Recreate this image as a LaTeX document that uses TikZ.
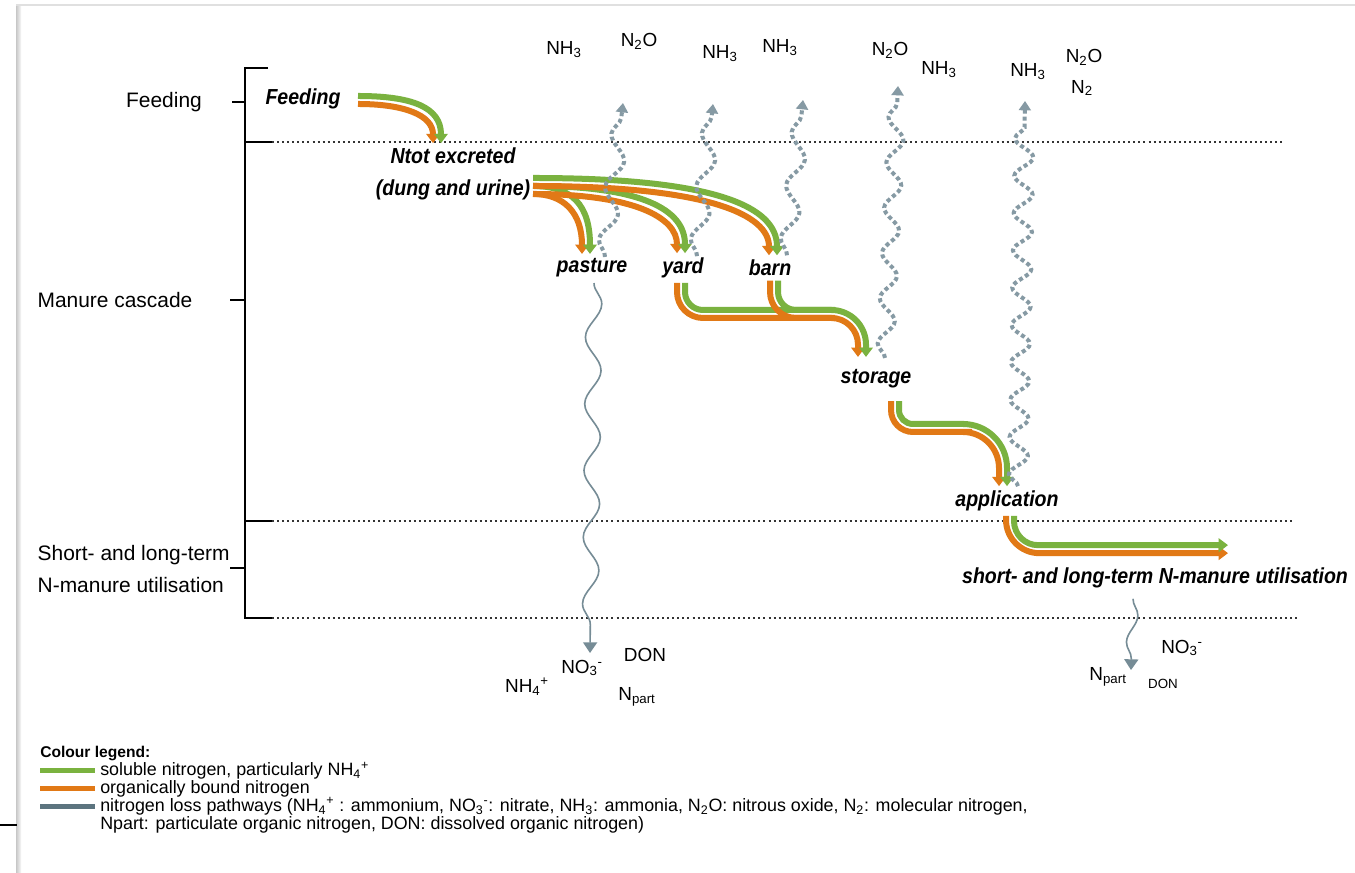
\documentclass[tikz,border=0pt]{standalone}
\usepackage{fontspec}
\setmainfont{Liberation Sans}
\newfontfamily\stagefont{Liberation Sans}[FakeStretch=0.9]
\usetikzlibrary{arrows.meta,decorations.pathmorphing}
\definecolor{solgreen}{RGB}{122,178,63}
\definecolor{orgorange}{RGB}{225,121,22}
\definecolor{lossgrey}{RGB}{134,154,164}
\definecolor{leachgrey}{RGB}{118,140,150}
\definecolor{keygrey}{RGB}{92,116,127}
\newcommand{\subsup}[2]{\textsubscript{#1}\textsuperscript{#2}}

\begin{document}
\begin{tikzpicture}[x=0.75pt,y=0.75pt,
	phase/.style={font=\fontsize{15.7}{24.7}\selectfont},
	stage/.style={font=\stagefont\fontsize{16.3}{24}\selectfont\bfseries\itshape, align=center},
	gas/.style={font=\fontsize{14.2}{16}\selectfont, inner sep=0pt},
	keytext/.style={font=\fontsize{13.4}{13.6}\selectfont, anchor=base west, inner sep=0pt},
	levelline/.style={draw=black!80, line width=1.1pt, dash pattern=on 1.5pt off 2.3pt},
	band/.style={line width=4.5pt, -{Triangle[width=10pt,length=7pt]}},
	soluble/.style={band, draw=solgreen},
	organic/.style={band, draw=orgorange},
	lossway/.style={draw=lossgrey, line width=3pt, dash pattern=on 3pt off 2.2pt,
		decorate, decoration={snake, segment length=40pt, amplitude=6pt, post length=8pt},
		-{Triangle[width=9pt,length=7pt]}},
	leach/.style={draw=leachgrey, line width=1.2pt,
		decorate, decoration={snake, segment length=50pt, amplitude=6pt, post length=8pt},
		-{Triangle[width=10.5pt,length=8pt]}}]

	\useasboundingbox (0,0) rectangle (1355,873);
	\fill[white] (0,0) rectangle (1355,873);
	\shade[left color=black!22, right color=black!3] (16,0) rectangle (21,868);
	\draw[black!12, line width=1.2pt] (16,868) -- (1355,868);
	\draw[line width=0.8pt] (0,48) -- (17,48);

	% phase bracket and levels
	\draw[line width=0.8pt] (268,805) -| (245,255) -- (272,255);
	\draw[line width=0.8pt] (245,731) -- (272,731);
	\draw[line width=0.8pt] (245,352) -- (272,352);
	\draw[line width=0.8pt] (232,771) -- (245,771);
	\draw[line width=0.8pt] (230,573) -- (245,573);
	\draw[line width=0.8pt] (230,305) -- (245,305);
	\draw[levelline] (272,731) -- (1285,731);
	\draw[levelline] (272,352) -- (1295,352);
	\draw[levelline] (272,255) -- (1300,255);

	\node[phase] (feedphase) at (164,771) {Feeding};
	\node[phase] (cascadephase) at (115,573) {Manure cascade};
	\node[phase, align=left, anchor=west] (usephase) at (33,304) {Short- and long-term\\N-manure utilisation};

	% stages
	\node[stage] (feeding) at (303,774) {Feeding};
	\node[stage] (excreted) at (453,699) {Ntot excreted\\(dung and urine)};
	\node[stage] (pasture) at (592,605) {pasture};
	\node[stage] (yard) at (683,605) {yard};
	\node[stage] (barn) at (770,605) {barn};
	\node[stage] (storage) at (876,494) {storage};
	\node[stage] (application) at (1007,372) {application};
	\node[stage] (utilisation) at (1155,295) {short- and long-term N-manure utilisation};

	% manure flows
	\draw[organic] ([shift={(55,-5)}]feeding.center) .. controls +(46,0) and +(0,28) .. ([shift={(-20,0)}]excreted.north);
	\draw[soluble] ([shift={(55,3)}]feeding.center) .. controls +(54,0) and +(0,36) .. ([shift={(-12,0)}]excreted.north);

	\draw[organic] ([shift={(80,-20)}]excreted.center) .. controls +(31,0) and +(0,41) .. ([shift={(-10,0)}]pasture.north);
	\draw[soluble] ([shift={(80,-12)}]excreted.center) .. controls +(39,0) and +(0,49) .. ([shift={(-2,0)}]pasture.north);
	\draw[organic] ([shift={(80,-20)}]excreted.center) .. controls +(100,0) and +(0,36) .. ([shift={(-6,0)}]yard.north);
	\draw[soluble] ([shift={(80,-12)}]excreted.center) .. controls +(108,0) and +(0,44) .. ([shift={(2,0)}]yard.north);
	\draw[organic] ([shift={(80,-12)}]excreted.center) .. controls +(177,0) and +(0,40) .. ([shift={(-1,0)}]barn.north);
	\draw[soluble] ([shift={(80,-4)}]excreted.center) .. controls +(185,0) and +(0,48) .. ([shift={(7,0)}]barn.north);

	\draw[organic] ([shift={(-6,0)}]yard.south) [rounded corners=19.5pt] |- (770,555)
		[rounded corners=20pt] -| ([shift={(-18,8)}]storage.north);
	\draw[soluble] ([shift={(2,0)}]yard.south) [rounded corners=13.5pt] |- (770,563)
		[rounded corners=26pt] -| ([shift={(-10,8)}]storage.north);
	\draw[organic, -, rounded corners=19.5pt] (barn.south) |- (835,555);
	\draw[soluble, -, rounded corners=13.5pt] ([shift={(8,0)}]barn.south) |- (835,563);

	\draw[organic] ([shift={(15,-8)}]storage.south) [rounded corners=16.5pt] |- (950,441)
		[rounded corners=27pt] -| ([shift={(-8,0)}]application.north);
	\draw[soluble] ([shift={(23,-8)}]storage.south) [rounded corners=10.5pt] |- (950,449)
		[rounded corners=33pt] -| (application.north);

	\draw[organic, rounded corners=25pt] ([shift={(-1,0)}]application.south) |- ([shift={(73,10)}]utilisation.north);
	\draw[soluble, rounded corners=18pt] ([shift={(7,0)}]application.south) |- ([shift={(73,18)}]utilisation.north);

	% loss pathways
	\coordinate (pastureloss) at (623,770);
	\coordinate (yardloss) at (713,769);
	\coordinate (barnloss) at (803,773);
	\coordinate (storeloss) at (898,787);
	\coordinate (applloss) at (1025,772);
	\coordinate (pastureleach) at (590,220);
	\coordinate (useleach) at (1131,203);
	\draw[lossway] ([shift={(13,-3)}]pasture.north) -- (pastureloss);
	\draw[lossway] ([shift={(14,-3)}]yard.north) -- (yardloss);
	\draw[lossway] ([shift={(17,0)}]barn.north) -- (barnloss);
	\draw[lossway, decoration={segment length=34pt}] ([shift={(9,7)}]storage.north) -- (storeloss);
	\draw[lossway, decoration={segment length=28pt, amplitude=7pt}] ([shift={(11,0)}]application.north) -- (applloss);
	\draw[leach] ([shift={(2,-1)}]pasture.south) -- (pastureleach);
	\draw[leach, decoration={segment length=40pt, amplitude=4pt}] ([shift={(-22,-6)}]utilisation.south) -- (useleach);

	% gases and leached forms
	\node[gas] (nhpasture) at (564,823) {NH\textsubscript{3}};
	\node[gas] (nopasture) at (639,832) {N\textsubscript{2}O};
	\node[gas] (nhyard) at (720,819) {NH\textsubscript{3}};
	\node[gas] (nhbarn) at (780,825) {NH\textsubscript{3}};
	\node[gas] (nostore) at (890,823) {N\textsubscript{2}O};
	\node[gas] (nhstore) at (939,803) {NH\textsubscript{3}};
	\node[gas] (nhappl) at (1028,801) {NH\textsubscript{3}};
	\node[gas] (noappl) at (1084,816) {N\textsubscript{2}O};
	\node[gas] (ntwoappl) at (1082,785) {N\textsubscript{2}};
	\node[gas] (nitrpasture) at (582,205) {NO\subsup{3}{-}};
	\node[gas] (donpasture) at (645,218) {DON};
	\node[gas] (ammpasture) at (527,186) {NH\textsubscript{4}\textsuperscript{+}};
	\node[gas] (partpasture) at (637,176) {N\textsubscript{part}};
	\node[gas] (nitruse) at (1182,225) {NO\subsup{3}{-}};
	\node[gas] (partuse) at (1108,196) {N\textsubscript{part}};
	\node[gas, font=\fontsize{10}{12}\selectfont] (donuse) at (1163,189) {DON};

	% colour legend
	\node[keytext, font=\fontsize{11.7}{13.5}\selectfont\bfseries] (keytitle) at (40,115) {Colour legend:};
	\fill[solgreen] (40,99.5) rectangle (95,104.5);
	\fill[orgorange] (40,81.5) rectangle (95,86.5);
	\fill[keygrey] (40,63.5) rectangle (95,68.5);
	\node[keytext] (keysol) at (100,97) {soluble nitrogen, particularly NH\subsup{4}{+}};
	\node[keytext] (keyorg) at (100,79) {organically bound nitrogen};
	\node[keytext, align=left] (keyloss) at (100,43) {nitrogen loss pathways (NH\subsup{4}{+} : ammonium, NO\subsup{3}{-}: nitrate, NH\textsubscript{3}: ammonia, N\textsubscript{2}O: nitrous oxide, N\textsubscript{2}: molecular nitrogen,\\Npart: particulate organic nitrogen, DON: dissolved organic nitrogen)};
\end{tikzpicture}
\end{document}
